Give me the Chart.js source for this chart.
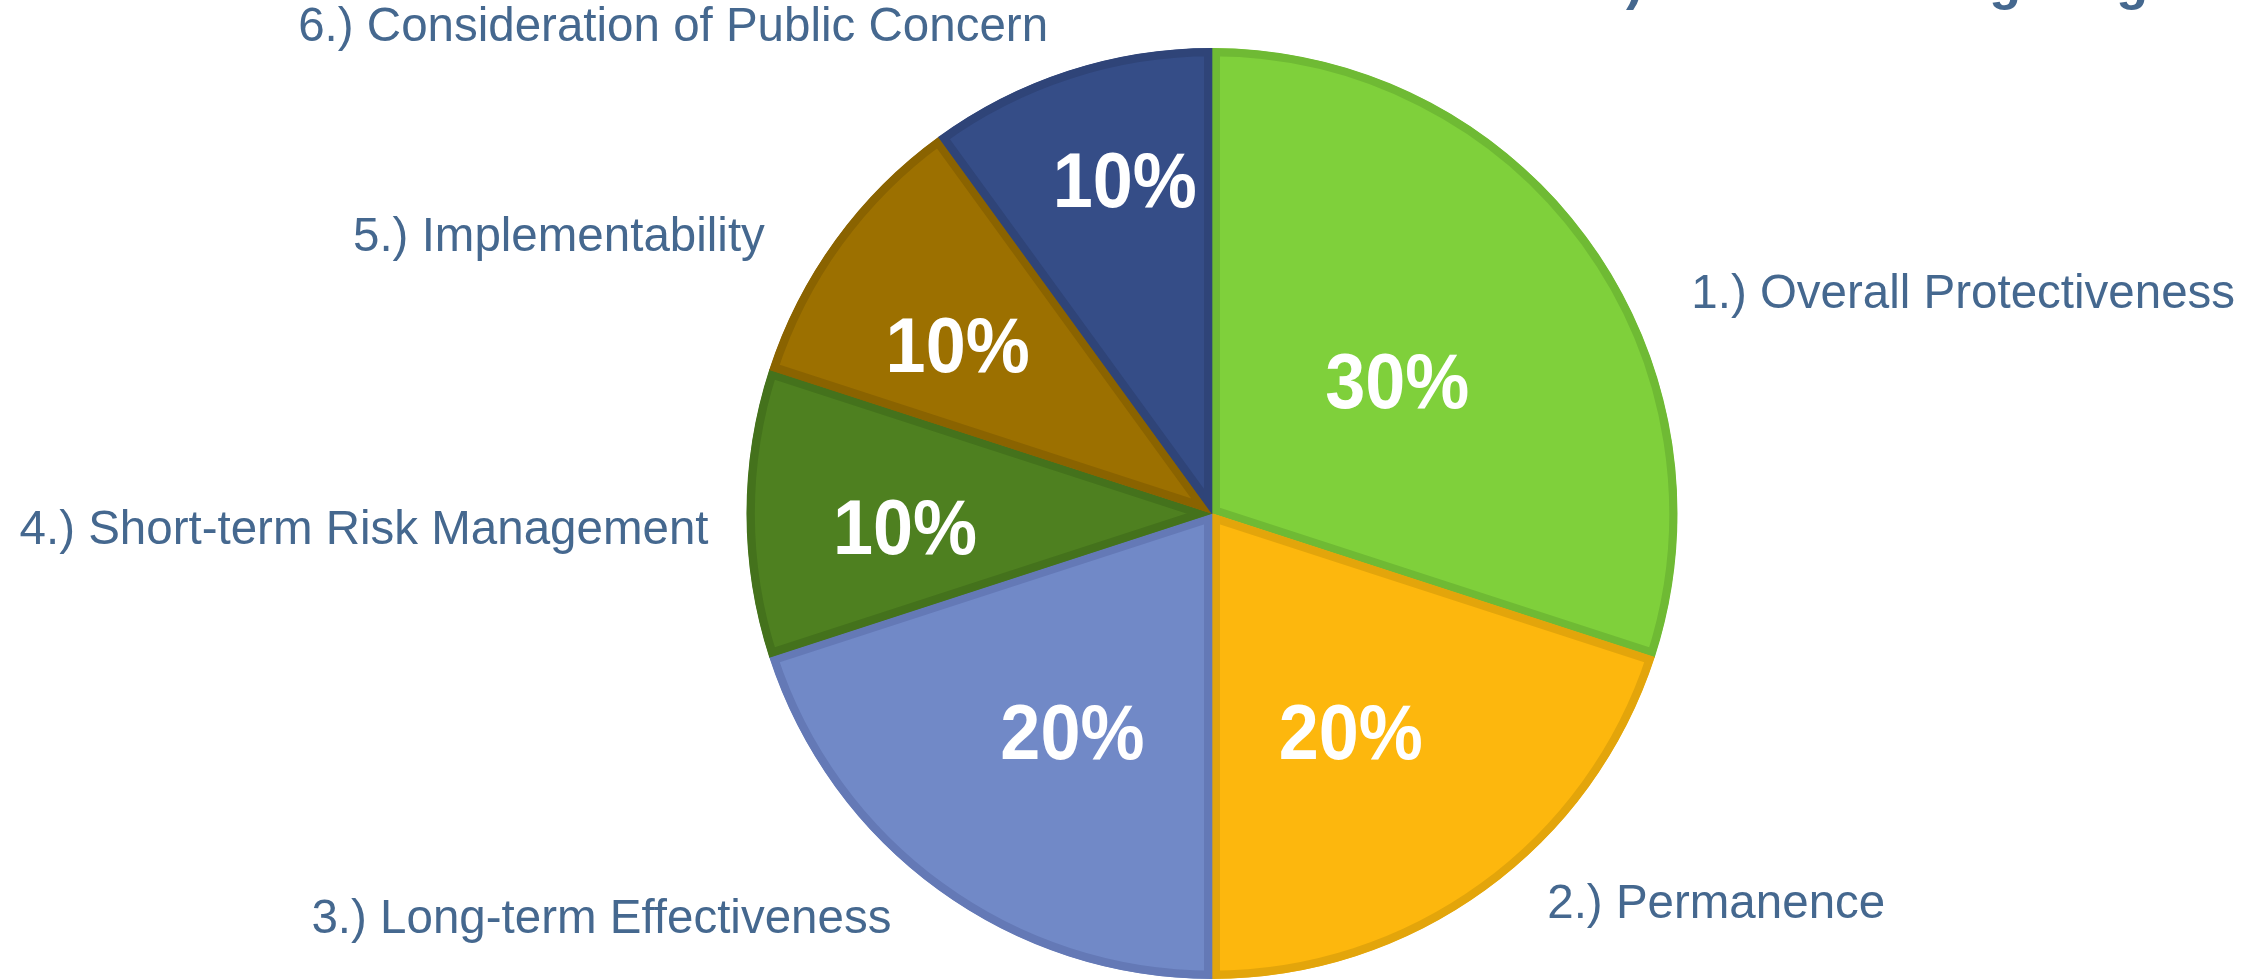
<!DOCTYPE html>
<html>
<head>
<meta charset="utf-8">
<script src="https://cdn.jsdelivr.net/npm/chart.js@4.4.1/dist/chart.umd.min.js"></script>
<style>
html,body{margin:0;padding:0;background:#ffffff;overflow:hidden}
#wrap{width:2262px;height:979px;position:relative}
</style>
</head>
<body>
<div id="wrap"><canvas id="c" width="2262" height="979"></canvas></div>
<script>
// ---- data ----
const categories = [
  '1.) Overall Protectiveness',
  '2.) Permanence',
  '3.) Long-term Effectiveness',
  '4.) Short-term Risk Management',
  '5.) Implementability',
  '6.) Consideration of Public Concern'
];
const weights = [30, 20, 20, 10, 10, 10];
const valueLabels = ['30%', '20%', '20%', '10%', '10%', '10%'];
const titleText = '1.) \u2013 Criteria Weighting';

// ---- styles ----
const fillColors   = ['#7FD03B', '#FDB70D', '#7189C7', '#4E8020', '#9C7000', '#354D87'];
const borderColors = ['#6FBA34', '#E3A50B', '#6479B6', '#44721C', '#8A6300', '#2F4478'];
const labelColor = '#45688F';
const FONT = '"Liberation Sans", Arial, Helvetica, sans-serif';

// label placement: angle (deg clockwise from top) and distance as fraction of radius
const valueLabelPlacement = [
  {a: 54.3, d: 0.49}, {a: 147.5, d: 0.555}, {a: 212.7, d: 0.555},
  {a: 267.6, d: 0.66}, {a: 303.6, d: 0.656}, {a: 345.4, d: 0.743}
];
const outerLabelPlacement = [
  {a: 65.0, d: 1.136, align: 'left'},
  {a: 139.1, d: 1.10, align: 'left'},
  {a: 218.6, d: 1.104, align: 'right'},
  {a: 268.5, d: 1.082, align: 'right'},
  {a: 302.1, d: 1.134, align: 'right'},
  {a: 341.5, d: 1.11, align: 'right'}
];

function drawText(ctx, txt, x, yCenter, size, sy) {
  // draw text whose cap-height centre sits at yCenter, stretched vertically by sy
  ctx.save();
  ctx.translate(x, yCenter);
  ctx.scale(1, sy);
  ctx.textBaseline = 'alphabetic';
  ctx.fillText(txt, 0, 0.358 * size);
  ctx.restore();
}

const labelPlugin = {
  id: 'pieLabels',
  afterDraw(chart) {
    const ctx = chart.ctx;
    const meta = chart.getDatasetMeta(0);
    const arc0 = meta.data[0];
    const cx = arc0.x, cy = arc0.y, r = arc0.outerRadius;
    const pt = (p) => {
      const t = p.a * Math.PI / 180;
      return [cx + p.d * r * Math.sin(t), cy - p.d * r * Math.cos(t)];
    };
    ctx.save();
    // value labels
    ctx.fillStyle = '#FFFFFF';
    ctx.font = 'bold 72px ' + FONT;
    ctx.textAlign = 'center';
    valueLabels.forEach((txt, i) => {
      const [x, y] = pt(valueLabelPlacement[i]);
      drawText(ctx, txt, x, y, 72, 1.08);
    });
    // category labels
    ctx.fillStyle = labelColor;
    ctx.font = '47.5px ' + FONT;
    categories.forEach((txt, i) => {
      const p = outerLabelPlacement[i];
      const [x, y] = pt(p);
      ctx.textAlign = p.align;
      drawText(ctx, txt, x, y, 47.5, 1.03);
    });
    // title (mostly cropped at the top edge)
    ctx.font = 'bold 52px ' + FONT;
    ctx.textAlign = 'right';
    ctx.textBaseline = 'alphabetic';
    ctx.fillText(titleText, 2148, -1);
    ctx.restore();
  }
};

new Chart(document.getElementById('c'), {
  type: 'pie',
  data: {
    labels: categories,
    datasets: [{
      data: weights,
      backgroundColor: fillColors,
      borderColor: borderColors,
      borderWidth: 8,
      borderAlign: 'inner'
    }]
  },
  options: {
    responsive: false,
    animation: false,
    devicePixelRatio: 1,
    rotation: 0,
    layout: { padding: { top: 48, bottom: -3, left: 745, right: 583 } },
    plugins: {
      legend: { display: false },
      tooltip: { enabled: false },
      title: { display: false }
    }
  },
  plugins: [labelPlugin]
});
</script>
</body>
</html>
